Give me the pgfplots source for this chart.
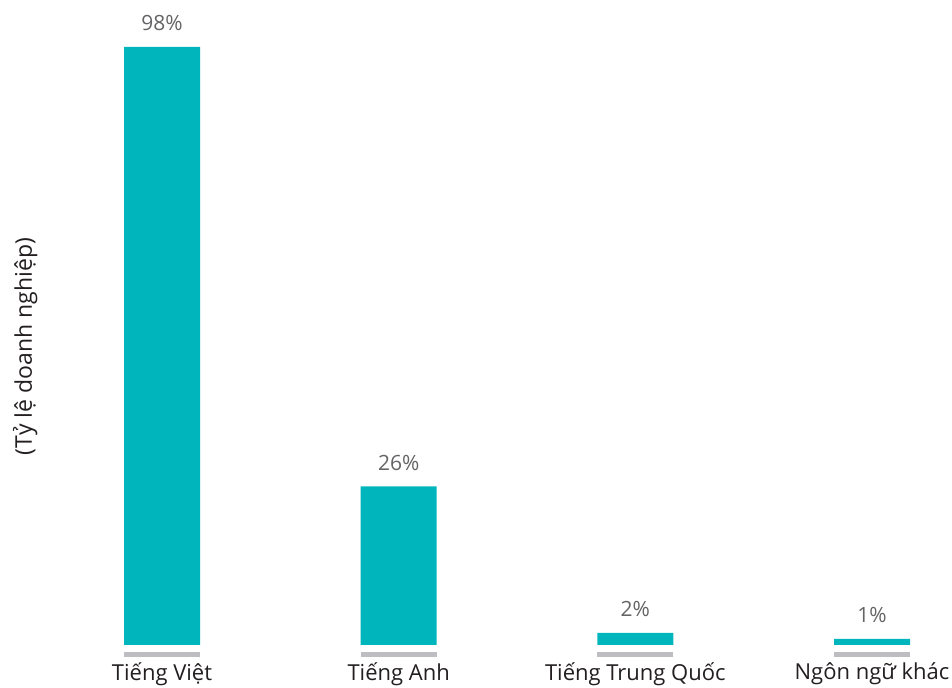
\documentclass[border=0pt]{standalone}
\usepackage{pgfplots}
\pgfplotsset{compat=1.18}
\usepackage{fontspec}
\setmainfont{Open Sans}
\definecolor{barteal}{RGB}{0,181,187}
\definecolor{stripgrey}{RGB}{190,190,194}
\definecolor{valgrey}{RGB}{100,100,102}
\definecolor{labdark}{RGB}{35,31,32}
\begin{document}
\begin{tikzpicture}
\useasboundingbox (0,0) rectangle (476pt,344pt);
\begin{axis}[
  at={(30pt,21.5pt)}, anchor=south west,
  scale only axis, width=446pt, height=317.3pt,
  xmin=-0.431, xmax=3.338, ymin=0, ymax=104,
  axis line style={draw=none},
  ytick=\empty, xtick=data,
  xticklabels={Tiếng Việt, Tiếng Anh, Tiếng Trung Quốc, Ngôn ngữ khác},
  major tick length=0pt,
  xticklabel style={font=\fontsize{11}{13}\selectfont, text=labdark, yshift=-5.5pt},
  clip=false,
  /pgf/number format/assume math mode=true,
  ylabel={(Tỷ lệ doanh nghiệp)},
  ylabel style={at={(axis description cs:-0.039,0.47)}, anchor=center, rotate=0, font=\fontsize{11.5}{13}\selectfont, text=labdark},
  nodes near coords={\pgfmathprintnumber[fixed,precision=0,assume math mode=true]{\pgfplotspointmeta}\%},
  every node near coord/.append style={font=\fontsize{10.5}{12}\selectfont, text=valgrey, yshift=4.5pt},
]
\addplot[ybar, bar width=38pt, fill=barteal, draw=none] coordinates {(0,98) (1,26) (2,2) (3,1)};
\addplot[only marks, mark=-, mark size=19pt, line width=2.5pt, color=stripgrey, nodes near coords={}] coordinates {(0,-1.56) (1,-1.56) (2,-1.56) (3,-1.56)};
\end{axis}
\end{tikzpicture}
\end{document}
